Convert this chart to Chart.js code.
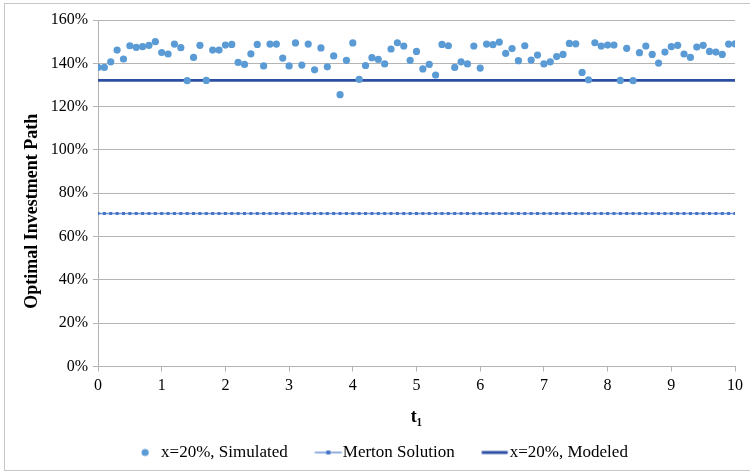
<!DOCTYPE html>
<html>
<head>
<meta charset="utf-8">
<script src="https://cdn.jsdelivr.net/npm/chart.js@4.4.1/dist/chart.umd.min.js"></script>
<style>
  html, body { margin: 0; padding: 0; background: #fff; }
  #wrap { position: relative; width: 750px; height: 472px; overflow: hidden; }
  #frame { position: absolute; left: 4px; top: 3px; width: 800px; height: 466px;
           border: 1px solid #c6c6c6; border-right: none; }
  #chart { position: absolute; left: 0; top: 0; }
</style>
</head>
<body>
<div id="wrap">
  <div id="frame"></div>
  <canvas id="chart" width="750" height="472"></canvas>
</div>
<script>
// tiempo t1 (eje x)
const tValues = [
  0, 0.1, 0.2, 0.3, 0.4, 0.5, 0.6, 0.7, 0.8, 0.9,
  1, 1.1, 1.2, 1.3, 1.4, 1.5, 1.6, 1.7, 1.8, 1.9,
  2, 2.1, 2.2, 2.3, 2.4, 2.5, 2.6, 2.7, 2.8, 2.9,
  3, 3.1, 3.2, 3.3, 3.4, 3.5, 3.6, 3.7, 3.8, 3.9,
  4, 4.1, 4.2, 4.3, 4.4, 4.5, 4.6, 4.7, 4.8, 4.9,
  5, 5.1, 5.2, 5.3, 5.4, 5.5, 5.6, 5.7, 5.8, 5.9,
  6, 6.1, 6.2, 6.3, 6.4, 6.5, 6.6, 6.7, 6.8, 6.9,
  7, 7.1, 7.2, 7.3, 7.4, 7.5, 7.6, 7.7, 7.8, 7.9,
  8, 8.1, 8.2, 8.3, 8.4, 8.5, 8.6, 8.7, 8.8, 8.9,
  9, 9.1, 9.2, 9.3, 9.4, 9.5, 9.6, 9.7, 9.8, 9.9,
  10
];

// x=20%, Simulated (en %)
const simulatedValues = [
  138.1, 138.1, 140.7, 146.1, 142.0, 148.1, 147.4, 147.7, 148.3, 150.0,
  145.0, 144.3, 148.9, 147.2, 132.0, 142.7, 148.3, 132.1, 146.1, 146.1,
  148.4, 148.7, 140.4, 139.5, 144.4, 148.7, 138.8, 148.9, 148.9, 142.4,
  138.8, 149.4, 139.2, 148.9, 137.0, 147.1, 138.4, 143.4, 125.5, 141.4,
  149.4, 132.6, 139.0, 142.6, 141.8, 139.7, 146.6, 149.5, 148.0, 141.4,
  145.5, 137.4, 139.5, 134.6, 148.7, 148.1, 138.1, 140.7, 139.7, 148.0,
  137.8, 148.9, 148.6, 149.8, 144.6, 146.8, 141.2, 148.1, 141.5, 143.8,
  139.7, 140.7, 143.1, 144.1, 149.2, 149.0, 135.8, 132.4, 149.5, 148.0,
  148.4, 148.4, 132.1, 146.9, 132.0, 144.9, 148.0, 144.1, 140.1, 145.2,
  147.7, 148.3, 144.3, 142.7, 147.5, 148.3, 145.5, 145.2, 144.1, 148.9,
  149.0
];

// Merton Solution (en %)
const mertonValues = [
  70.7, 70.7, 70.7, 70.7, 70.7, 70.7, 70.7, 70.7, 70.7, 70.7,
  70.7, 70.7, 70.7, 70.7, 70.7, 70.7, 70.7, 70.7, 70.7, 70.7,
  70.7, 70.7, 70.7, 70.7, 70.7, 70.7, 70.7, 70.7, 70.7, 70.7,
  70.7, 70.7, 70.7, 70.7, 70.7, 70.7, 70.7, 70.7, 70.7, 70.7,
  70.7, 70.7, 70.7, 70.7, 70.7, 70.7, 70.7, 70.7, 70.7, 70.7,
  70.7, 70.7, 70.7, 70.7, 70.7, 70.7, 70.7, 70.7, 70.7, 70.7,
  70.7, 70.7, 70.7, 70.7, 70.7, 70.7, 70.7, 70.7, 70.7, 70.7,
  70.7, 70.7, 70.7, 70.7, 70.7, 70.7, 70.7, 70.7, 70.7, 70.7,
  70.7, 70.7, 70.7, 70.7, 70.7, 70.7, 70.7, 70.7, 70.7, 70.7,
  70.7, 70.7, 70.7, 70.7, 70.7, 70.7, 70.7, 70.7, 70.7, 70.7,
  70.7
];

// x=20%, Modeled (en %)
const modeledT = [0, 10];
const modeledValues = [132.1, 132.1];

const yTicks = [0, 20, 40, 60, 80, 100, 120, 140, 160];
const xTicks = [0, 1, 2, 3, 4, 5, 6, 7, 8, 9, 10];

const seriesNames = ['x=20%, Simulated', 'Merton Solution', 'x=20%, Modeled'];

const SERIF = "'Liberation Serif', 'DejaVu Serif', serif";
const COL_SIM = '#5b9bd5';
const COL_MERTON = '#4472c4';
const COL_MODEL = '#2c4ea3';
const COL_GRID = '#b4b4b4';

function toPoints(xs, ys) {
  return ys.map((y, i) => ({ x: xs[i], y: y }));
}

// iconos de la leyenda (el icono se centra en la caja, el dibujo va a la derecha)
function legendIcon(kind) {
  const c = document.createElement('canvas');
  c.width = 64;
  c.height = 12;
  const g = c.getContext('2d');
  if (kind === 0) {
    g.fillStyle = COL_SIM;
    g.beginPath();
    g.arc(47.25, 6, 3.6, 0, Math.PI * 2);
    g.fill();
  } else if (kind === 1) {
    g.strokeStyle = '#6f93d6';
    g.lineWidth = 1.5;
    g.beginPath();
    g.moveTo(35.25, 6);
    g.lineTo(62.25, 6);
    g.stroke();
    g.fillStyle = COL_MERTON;
    g.fillRect(46.75, 4, 4, 4);
  } else {
    g.strokeStyle = COL_MODEL;
    g.lineWidth = 3;
    g.beginPath();
    g.moveTo(35.25, 6);
    g.lineTo(61.25, 6);
    g.stroke();
  }
  return c;
}
const icons = [legendIcon(0), legendIcon(1), legendIcon(2)];

const ctx = document.getElementById('chart').getContext('2d');
const chart = new Chart(ctx, {
  type: 'scatter',
  data: {
    datasets: [{
      label: seriesNames[0],
      data: toPoints(tValues, simulatedValues),
      backgroundColor: COL_SIM,
      borderColor: COL_SIM,
      pointRadius: 3.6,
      pointBorderWidth: 0
    }, {
      label: seriesNames[1],
      type: 'line',
      data: toPoints(tValues, mertonValues),
      borderColor: '#6f93d6',
      borderWidth: 1.5,
      pointStyle: 'rect',
      pointRadius: 2.1,
      pointBackgroundColor: COL_MERTON,
      pointBorderColor: COL_MERTON,
      pointBorderWidth: 0,
      fill: false
    }, {
      label: seriesNames[2],
      type: 'line',
      data: toPoints(modeledT, modeledValues),
      borderColor: COL_MODEL,
      borderWidth: 2.6,
      pointRadius: 0,
      fill: false
    }]
  },
  options: {
    responsive: false,
    animation: false,
    devicePixelRatio: 1,
    layout: { padding: { left: 0, right: 15, top: 20, bottom: 1 } },
    plugins: {
      tooltip: { enabled: false },
      legend: {
        position: 'bottom',
        labels: {
          usePointStyle: true,
          pointStyleWidth: 45.5,
          padding: 1,
          color: '#000',
          font: { family: SERIF, size: 17 },
          generateLabels: (ch) => ch.data.datasets.map((ds, i) => ({
            text: ds.label,
            pointStyle: icons[i],
            fillStyle: 'rgba(0,0,0,0)',
            strokeStyle: 'rgba(0,0,0,0)',
            lineWidth: 0,
            hidden: false,
            datasetIndex: i,
            fontColor: '#000'
          }))
        }
      }
    },
    scales: {
      x: {
        type: 'linear',
        min: xTicks[0],
        max: xTicks[xTicks.length - 1],
        afterBuildTicks: (s) => { s.ticks = xTicks.map(v => ({ value: v })); },
        ticks: { color: '#000', font: { family: SERIF, size: 16 }, padding: 5 },
        grid: { drawOnChartArea: false, drawTicks: true, tickLength: 5, color: COL_GRID },
        border: { color: COL_GRID },
        title: {
          display: true,
          text: 't₁',
          color: '#000',
          font: { family: SERIF, size: 18, weight: 'bold' },
          padding: { top: 4, bottom: 14.5 }
        },
        afterFit: (s) => { s.height = 76.5; }
      },
      y: {
        min: yTicks[0],
        max: yTicks[yTicks.length - 1],
        afterBuildTicks: (s) => { s.ticks = yTicks.map(v => ({ value: v })); },
        ticks: {
          color: '#000',
          font: { family: SERIF, size: 16 },
          padding: 5,
          callback: (v) => v + '%'
        },
        grid: { color: COL_GRID, tickLength: 5 },
        border: { color: COL_GRID },
        title: {
          display: true,
          text: 'Optimal Investment Path\u00a0\u00a0\u00a0\u00a0\u00a0\u00a0\u00a0\u00a0',
          color: '#000',
          font: { family: SERIF, size: 18, weight: 'bold' },
          padding: { top: 22, bottom: 0 }
        },
        afterFit: (s) => { s.width = 98; }
      }
    }
  }
});
</script>
</body>
</html>
